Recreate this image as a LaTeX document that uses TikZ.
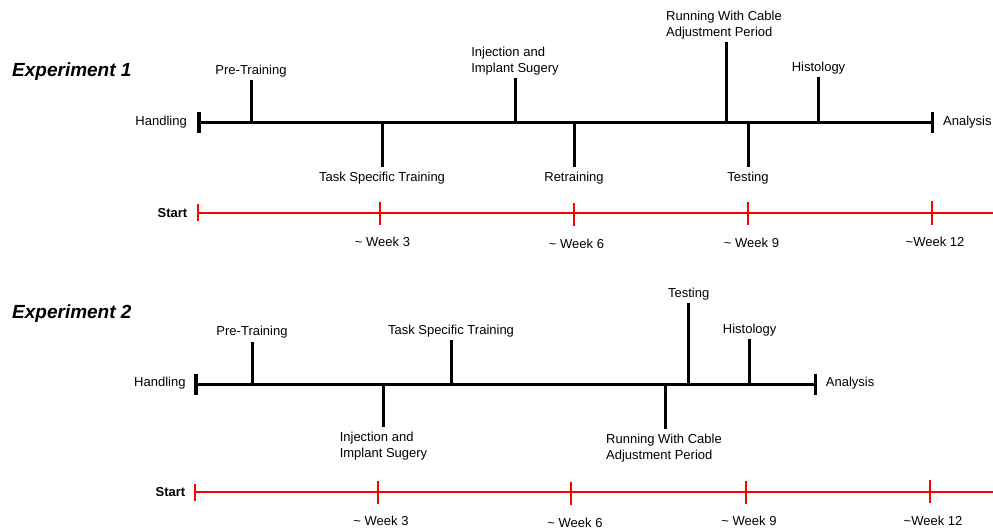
\documentclass[tikz,border=0pt]{standalone}
\usepackage{fontspec}
\setmainfont{Liberation Sans}
\usetikzlibrary{arrows.meta}
\begin{document}
\begin{tikzpicture}[x=1pt,y=-1pt,
    lbl/.style={font=\fontsize{13}{16}\selectfont,inner sep=3pt,align=left},
    lbldown/.style={lbl,anchor=north,inner ysep=5pt},
    lblup/.style={lbl,anchor=south},
    startlbl/.style={font=\fontsize{13}{16}\selectfont\bfseries,inner sep=0pt,anchor=east},
    exptitle/.style={font=\fontsize{19}{22}\selectfont\bfseries\itshape,anchor=west,inner sep=0pt},
    timeline/.style={line width=3.5pt,{Bar[width=21pt,line width=3.5pt]}-{Bar[width=21pt,line width=3.5pt]}},
    event/.style={line width=3pt},
    weekline/.style={red,line width=2.3pt,{Bar[width=17pt,line width=2pt]}-},
    weektick/.style={red,line width=2pt}]
  \useasboundingbox (0,0) rectangle (993,529);

  % Experiment 1
  \node[exptitle] (exp1) at (12,72) {Experiment 1};
  \coordinate (start1) at (197,122.5);
  \coordinate (end1) at (934,122.5);
  \draw[timeline] (start1) -- (end1);
  \node[lbl,anchor=east] (handling1) at (190,122) {Handling};
  \node[lbl,anchor=west] (analysis1) at (940,122) {Analysis};

  \coordinate (pre1) at (251,122.5);
  \node[lblup] (pre1t) at (251,80.5) {Pre-Training};
  \draw[event] (pre1) -- (pre1t);
  \coordinate (inj1) at (515,122.5);
  \node[lblup] (inj1t) at (515,78.3) {Injection and\\Implant Sugery};
  \draw[event] (inj1) -- (inj1t);
  \coordinate (run1) at (726,122.5);
  \node[lblup] (run1t) at (724,42.3) {Running With Cable\\Adjustment Period};
  \draw[event] (run1) -- (run1 |- run1t.south);
  \coordinate (hist1) at (818.5,122.5);
  \node[lblup] (hist1t) at (818.5,77.3) {Histology};
  \draw[event] (hist1) -- (hist1t);

  \coordinate (task1) at (382,122.5);
  \node[lbldown] (task1t) at (382,166.7) {Task Specific Training};
  \draw[event] (task1) -- (task1t);
  \coordinate (retr1) at (574,122.5);
  \node[lbldown] (retr1t) at (574,166.7) {Retraining};
  \draw[event] (retr1) -- (retr1t);
  \coordinate (test1) at (748,122.5);
  \node[lbldown] (test1t) at (748,166.7) {Testing};
  \draw[event] (test1) -- (test1t);

  \coordinate (zero1) at (196.5,213);
  \coordinate (edge1) at (993,213);
  \draw[weekline] (zero1) -- (edge1);
  \node[startlbl] (start1t) at (187.5,213) {Start};
  \draw[weektick] (380,202) -- (380,225.5);
  \draw[weektick] (573.7,203) -- (573.7,226);
  \draw[weektick] (748,202.5) -- (748,225.5);
  \draw[weektick] (932,201.5) -- (932,225);
  \node[lbl] (wk3a) at (382.5,242.3) {\textasciitilde{} Week 3};
  \node[lbl] (wk6a) at (576.5,244) {\textasciitilde{} Week 6};
  \node[lbl] (wk9a) at (751.5,242.5) {\textasciitilde{} Week 9};
  \node[lbl] (wk12a) at (935,242) {\textasciitilde Week 12};

  % Experiment 2
  \node[exptitle] (exp2) at (12,314) {Experiment 2};
  \coordinate (start2) at (194,384.5);
  \coordinate (end2) at (817,384.5);
  \draw[timeline] (start2) -- (end2);
  \node[lbl,anchor=east] (handling2) at (188.7,382.7) {Handling};
  \node[lbl,anchor=west] (analysis2) at (822.7,382.7) {Analysis};

  \coordinate (pre2) at (252,384.5);
  \node[lblup] (pre2t) at (252,341.7) {Pre-Training};
  \draw[event] (pre2) -- (pre2t);
  \coordinate (task2) at (451,384.5);
  \node[lblup] (task2t) at (451,340) {Task Specific Training};
  \draw[event] (task2) -- (task2t);
  \coordinate (test2) at (688.7,384.5);
  \node[lblup] (test2t) at (688.7,303.3) {Testing};
  \draw[event] (test2) -- (test2t);
  \coordinate (hist2) at (749.7,384.5);
  \node[lblup] (hist2t) at (749.7,339.3) {Histology};
  \draw[event] (hist2) -- (hist2t);

  \coordinate (inj2) at (383.3,384.5);
  \node[lbldown] (inj2t) at (383.5,426.7) {Injection and\\Implant Sugery};
  \draw[event] (inj2) -- (inj2 |- inj2t.north);
  \coordinate (run2) at (665,384.5);
  \node[lbldown] (run2t) at (664,429.3) {Running With Cable\\Adjustment Period};
  \draw[event] (run2) -- (run2 |- run2t.north);

  \coordinate (zero2) at (194,492);
  \coordinate (edge2) at (993,492);
  \draw[weekline] (zero2) -- (edge2);
  \node[startlbl] (start2t) at (185.5,492) {Start};
  \draw[weektick] (378,480.5) -- (378,504);
  \draw[weektick] (571,481.5) -- (571,504.5);
  \draw[weektick] (746,480.5) -- (746,503.5);
  \draw[weektick] (930,480) -- (930,503);
  \node[lbl] (wk3b) at (381,521) {\textasciitilde{} Week 3};
  \node[lbl] (wk6b) at (575,522.5) {\textasciitilde{} Week 6};
  \node[lbl] (wk9b) at (749,521) {\textasciitilde{} Week 9};
  \node[lbl] (wk12b) at (933,521) {\textasciitilde Week 12};
\end{tikzpicture}
\end{document}
